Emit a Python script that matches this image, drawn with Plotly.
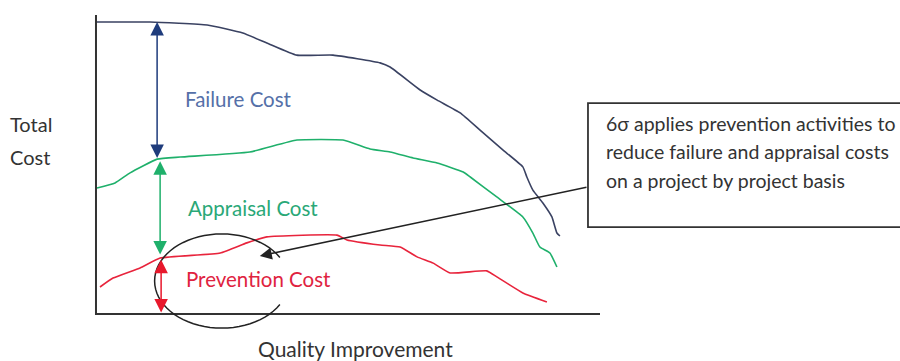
import math
import plotly.graph_objects as go

# Cost of quality curves (quality improvement 0-100, cost 0-100)
failure_x = [0, 10.8, 22.2, 29.3, 34.1, 40.1, 47.3, 56.7, 58.7, 64.7, 68.1, 72.7,
             76.6, 81.2, 85.2, 86.0, 87.2, 89.2, 91.0, 92.0, 92.6]
failure_y = [98.3, 98.3, 97.3, 94.6, 91.3, 87.2, 87.2, 84.6, 83.2, 75.5, 72.1, 67.8,
             62.1, 55.4, 49.7, 46.3, 41.9, 37.6, 32.9, 27.5, 26.5]

appraisal_x = [0.2, 3.8, 6.8, 12.2, 16.8, 30.7, 40.1, 49.3, 54.7, 58.7, 63.3, 68.1,
               73.3, 74.7, 80.0, 85.2, 87.2, 88.6, 90.6, 92.0]
appraisal_y = [42.6, 44.3, 47.7, 52.3, 53.0, 54.7, 58.7, 58.7, 55.7, 54.7, 52.7, 51.0,
               48.0, 46.3, 39.6, 32.9, 27.5, 22.8, 20.8, 16.1]

prevention_x = [0.8, 3.4, 8.8, 12.8, 24.8, 30.1, 34.1, 48.1, 50.1, 56.7, 60.7, 64.1,
                67.3, 70.7, 78.0, 80.0, 85.2, 90.0]
prevention_y = [9.4, 12.4, 15.8, 19.1, 20.8, 24.2, 26.2, 26.8, 25.2, 23.5, 22.8, 19.5,
                17.4, 14.1, 14.8, 12.8, 7.4, 4.4]

# Cost bands shown by double-headed arrows at one quality level
band_names = ["Failure Cost", "Appraisal Cost", "Prevention Cost"]
band_x = [12.2, 12.8, 13.0]
band_top = [98.3, 51.6, 18.5]
band_bottom = [52.2, 19.8, 0.3]

callout_lines = ["6σ applies prevention activities to",
                 "reduce failure and appraisal costs",
                 "on a project by project basis"]

FONT = "Lato, 'Open Sans', sans-serif"
DARK = "#333333"
colors = {
    "line": ["#3a4262", "#1fb06b", "#e8243c"],
    "arrow": ["#1f3c7c", "#1fb06b", "#e8182c"],
    "text": ["#5570a8", "#2aa877", "#e0233f"],
}

fig = go.Figure()
for xs, ys, c in zip([failure_x, appraisal_x, prevention_x],
                     [failure_y, appraisal_y, prevention_y], colors["line"]):
    fig.add_trace(go.Scatter(x=xs, y=ys, mode="lines",
                             line=dict(color=c, width=1.6, shape="spline", smoothing=0.4),
                             hoverinfo="skip", showlegend=False))

shapes = [
    # axes
    dict(type="line", x0=0, x1=0, y0=0, y1=100.7, line=dict(color=DARK, width=2)),
    dict(type="line", x0=0, x1=100.6, y0=0.3, y1=0.3, line=dict(color=DARK, width=2)),
    # callout box
    dict(type="rect", x0=98.2, x1=161.5, y0=29.5, y1=71.1,
         line=dict(color=DARK, width=1.8)),
]

# open ellipse marking the prevention activity cycle
cx, cy, rx, ry = 25.1, 11.4, 13.4, 15.8
pts = []
for k in range(0, 61):
    a = math.radians(30 + k * 5)
    pts.append((cx + rx * math.cos(a), cy + ry * math.sin(a)))
path = "M " + " L ".join(f"{px:.3f},{py:.3f}" for px, py in pts)
shapes.append(dict(type="path", path=path, line=dict(color="#222222", width=1.5)))

annotations = []
for i in range(3):
    annotations.append(dict(x=band_x[i], y=band_top[i], ax=band_x[i], ay=band_bottom[i],
                            xref="x", yref="y", axref="x", ayref="y", text="",
                            showarrow=True, arrowhead=2, arrowside="end+start",
                            arrowsize=1.8, arrowwidth=1.5, arrowcolor=colors["arrow"][i]))

label_pos = [(28.5, 72.6), (31.3, 35.9), (32.5, 12.1)]
for i, (lx, ly) in enumerate(label_pos):
    annotations.append(dict(x=lx, y=ly, xref="x", yref="y", text=band_names[i],
                            showarrow=False, xanchor="center", yanchor="middle",
                            font=dict(family=FONT, size=20.5, color=colors["text"][i])))

# callout arrow
annotations.append(dict(x=32.7, y=19.8, ax=98.2, ay=43.0, xref="x", yref="y",
                        axref="x", ayref="y", text="", showarrow=True, arrowhead=2,
                        arrowsize=1.6, arrowwidth=1.5, arrowcolor="#222222"))

for j, line in enumerate(callout_lines):
    annotations.append(dict(x=101.4, y=64.4 - j * 9.6, xref="x", yref="y", text=line,
                            showarrow=False, xanchor="left", yanchor="middle",
                            font=dict(family=FONT, size=19.5, color=DARK)))

annotations += [
    dict(x=-17.6, y=64.1, xref="x", yref="y", text="Total", showarrow=False,
         xanchor="left", yanchor="middle", font=dict(family=FONT, size=20, color=DARK)),
    dict(x=-17.6, y=53.0, xref="x", yref="y", text="Cost", showarrow=False,
         xanchor="left", yanchor="middle", font=dict(family=FONT, size=20, color=DARK)),
    dict(x=51.7, y=-11.2, xref="x", yref="y", text="Quality Improvement", showarrow=False,
         xanchor="center", yanchor="middle", font=dict(family=FONT, size=21, color=DARK)),
]

fig.update_layout(
    width=900, height=361, autosize=False,
    margin=dict(l=0, r=0, t=0, b=0),
    paper_bgcolor="white", plot_bgcolor="white",
    xaxis=dict(range=[-19.16, 160.48], visible=False, fixedrange=True),
    yaxis=dict(range=[-15.44, 105.70], visible=False, fixedrange=True),
    shapes=shapes, annotations=annotations,
)

fig.write_html("out.html", config={"displayModeBar": False})
